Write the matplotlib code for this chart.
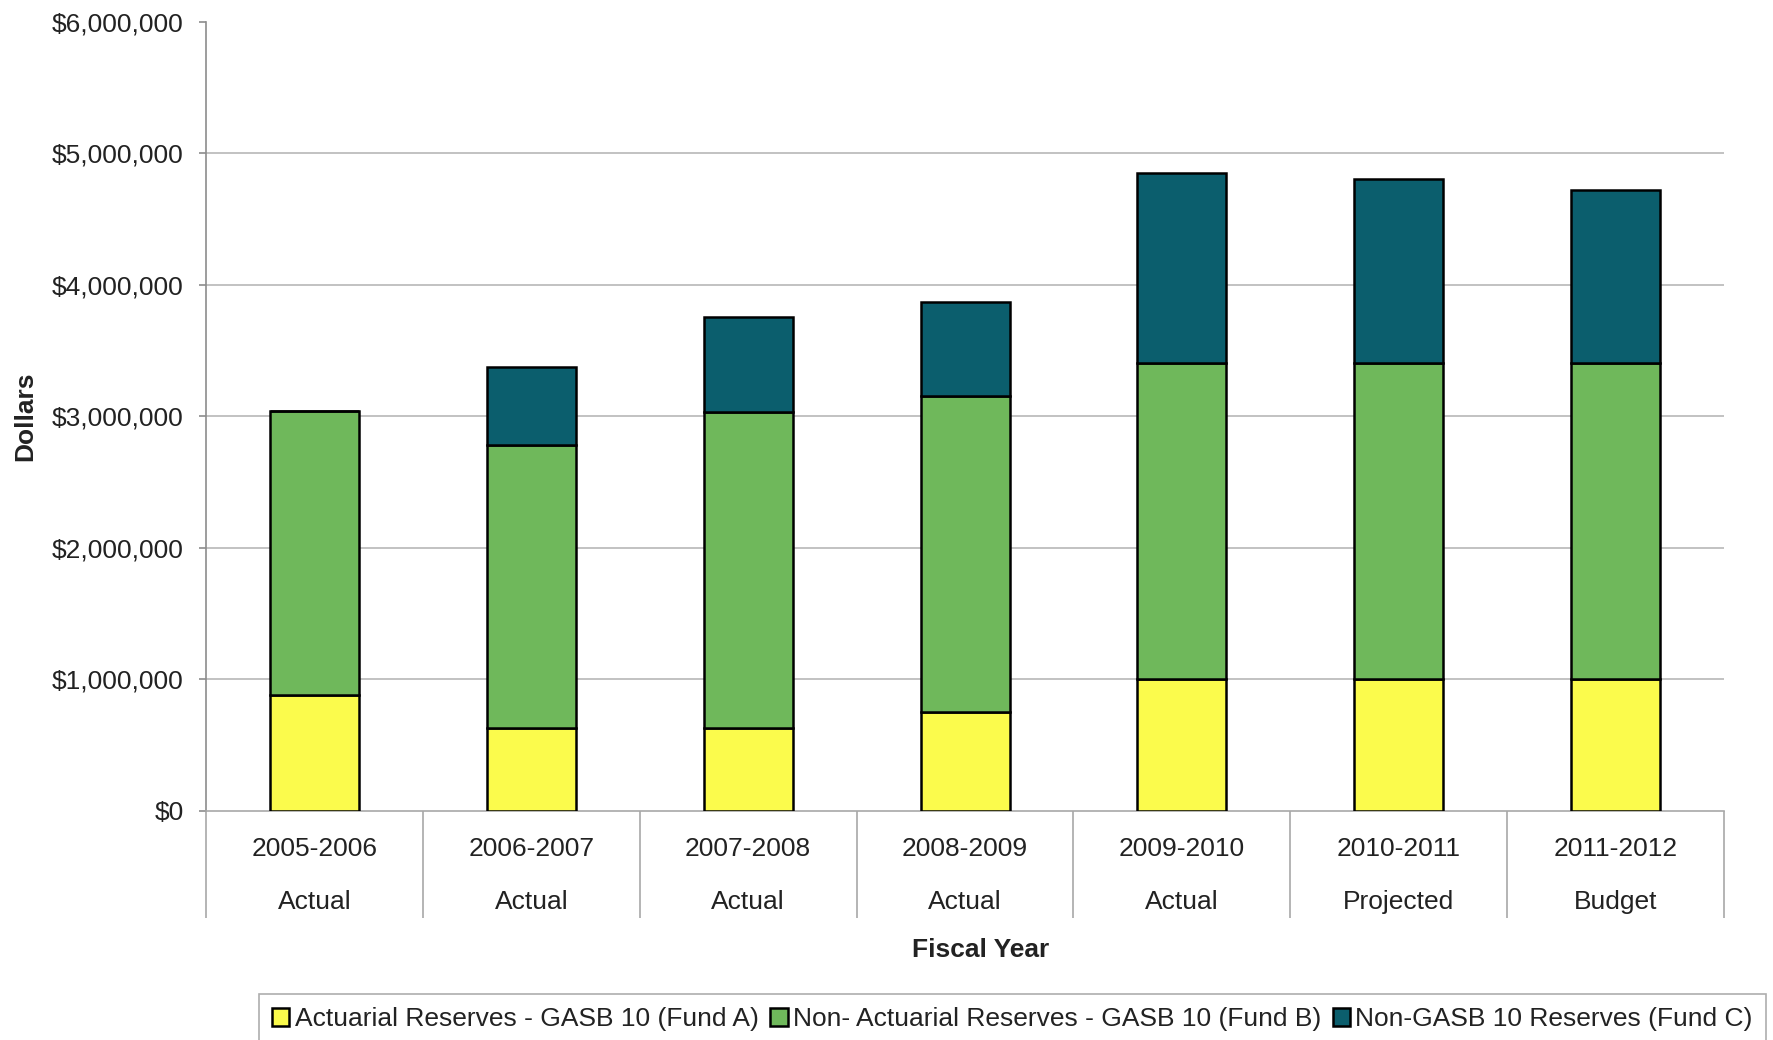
import numpy as np
import matplotlib
matplotlib.use("Agg")
import matplotlib.pyplot as plt
from matplotlib.ticker import FuncFormatter, MultipleLocator, FixedLocator

plt.rcParams["font.family"] = ["Liberation Sans", "DejaVu Sans"]

# Fund balances by fiscal year (dollars)
years = ["2005-2006", "2006-2007", "2007-2008", "2008-2009", "2009-2010", "2010-2011", "2011-2012"]
status = ["Actual", "Actual", "Actual", "Actual", "Actual", "Projected", "Budget"]
fund_a = [880000, 630000, 630000, 750000, 1000000, 1000000, 1000000]
fund_b = [2160000, 2150000, 2400000, 2400000, 2400000, 2400000, 2400000]
fund_c = [0, 590000, 720000, 720000, 1450000, 1400000, 1320000]

series = [
    ("Actuarial Reserves - GASB 10 (Fund A)", fund_a, "#FBFB4C"),
    ("Non- Actuarial Reserves - GASB 10 (Fund B)", fund_b, "#6FB85B"),
    ("Non-GASB 10 Reserves (Fund C)", fund_c, "#0B5E6D"),
]

FS = 19

fig = plt.figure(figsize=(17.73, 10.40), dpi=100)
ax = fig.add_axes([0.1162, 0.2205, 0.8562, 0.7588])

x = np.arange(len(years))
bottom = np.zeros(len(years))
handles = []
for label, vals, color in series:
    vals = np.array(vals, dtype=float)
    bars = ax.bar(x, vals, width=0.41, bottom=bottom, color=color,
                  edgecolor="black", linewidth=1.8, label=label, zorder=3)
    handles.append(bars)
    bottom += vals

ax.set_xlim(-0.5, len(years) - 0.5)
ax.set_ylim(0, 6000000)

# y axis
ax.yaxis.set_major_locator(MultipleLocator(1000000))
ax.yaxis.set_major_formatter(FuncFormatter(lambda v, p: f"${v:,.0f}"))
ax.tick_params(axis="y", labelsize=FS, length=5, width=1.2, color="#8C8C8C",
               pad=11, labelcolor="#222222")
for yv in range(1, 6):
    ax.axhline(yv * 1000000, color="#BDBDBD", linewidth=1.3, zorder=1)

# x axis: category separators hang below the axis
ax.xaxis.set_major_locator(FixedLocator(x))
ax.set_xticklabels([])
ax.tick_params(axis="x", which="major", length=0)
ax.xaxis.set_minor_locator(FixedLocator(np.arange(-0.5, len(years), 1.0)))
ax.tick_params(axis="x", which="minor", length=77, width=1.2, color="#A8A8A8")

for i in range(len(years)):
    ax.text(x[i], -0.0485, years[i], transform=ax.get_xaxis_transform(),
            ha="center", va="center", fontsize=FS, color="#222222")
    ax.text(x[i], -0.116, status[i], transform=ax.get_xaxis_transform(),
            ha="center", va="center", fontsize=FS, color="#222222")

for side in ["top", "right"]:
    ax.spines[side].set_visible(False)
ax.spines["left"].set_color("#8C8C8C")
ax.spines["left"].set_linewidth(1.2)
ax.spines["bottom"].set_color("#A8A8A8")
ax.spines["bottom"].set_linewidth(1.2)

ax.set_xlabel("Fiscal Year", fontsize=FS, fontweight="bold", color="#222222")
ax.xaxis.set_label_coords(0.5105, -0.161)
ax.set_ylabel("Dollars", fontsize=FS, fontweight="bold", color="#222222")
ax.yaxis.set_label_coords(-0.111, 0.5)

leg = fig.legend(handles=handles, loc="lower right", bbox_to_anchor=(0.996, -0.004),
                 ncol=3, fontsize=FS, frameon=True, fancybox=False,
                 handlelength=0.65, handleheight=0.65, handletextpad=0.2,
                 columnspacing=0.45, borderpad=0.5, borderaxespad=0)
leg.get_frame().set_edgecolor("#9A9A9A")
leg.get_frame().set_linewidth(1.2)
for t in leg.get_texts():
    t.set_color("#222222")

fig.savefig("out.png", dpi=100, facecolor="white")
